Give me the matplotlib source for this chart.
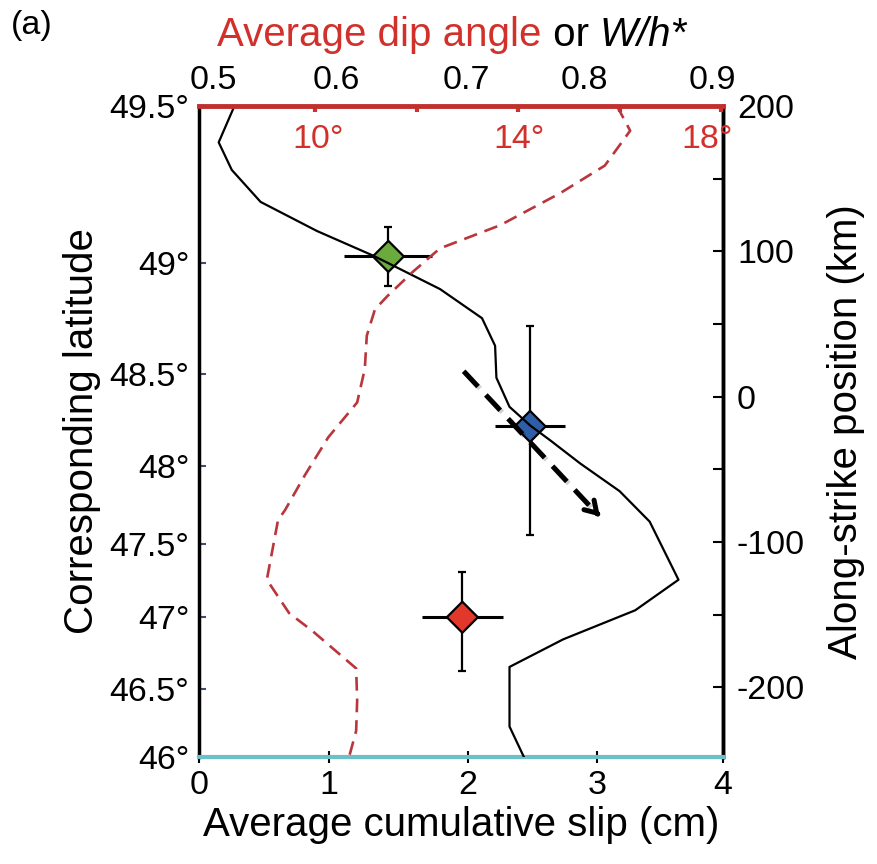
import numpy as np
import matplotlib.pyplot as plt
import matplotlib.patheffects as pe
from matplotlib.offsetbox import TextArea, HPacker, AnchoredOffsetbox

plt.rcParams['font.family'] = ['Liberation Sans', 'DejaVu Sans']

# black line: average cumulative slip (cm) along strike (km)
slip_cm = [0.27, 0.15, 0.25, 0.47, 0.90, 1.33, 1.53, 1.84, 2.16, 2.26, 2.27, 2.37,
           2.53, 2.68, 2.91, 3.21, 3.44, 3.66, 3.33, 2.78, 2.37, 2.37, 2.48]
slip_km = [200, 175, 156, 134, 114, 97, 88, 74, 54, 35, 13, -7,
           -20, -30, -46, -65, -86, -126, -147, -167, -186, -227, -248]

# red dashed line: average dip angle (deg)
dip_deg = [15.95, 16.21, 15.71, 14.83, 13.65, 12.46, 11.93, 11.42, 11.18, 11.02, 10.98, 10.83,
           10.26, 9.80, 9.41, 9.27, 9.05, 9.49, 9.94, 10.81, 10.83, 10.81, 10.67]
dip_km = [200, 183, 159, 140, 118, 102, 86, 69, 60, 42, 19, -4,
          -28, -54, -78, -85, -126, -149, -161, -187, -209, -230, -248]

# diamonds with error bars
mk_slip = [1.445, 2.527, 2.01]
mk_km = [96.5, -20.5, -151.8]
mk_xerr = [0.335, 0.27, 0.31]
mk_yerr_lo = [20.5, 75, 37]
mk_yerr_hi = [20.5, 69, 31]
mk_colors = ['#6aab3c', '#2f5ea8', '#e2382b']

# dashed arrow (slip, km)
arrow_start = (2.02, 17.5)
arrow_end = (3.06, -82.4)

# axes ticks
slip_ticks = [0, 0.99, 2.05, 3.04, 4]
slip_labels = ['0', '1', '2', '3', '4']
lat_ticks_km = [200, 91.8, 15.5, -47.7, -101.6, -151.8, -200.9, -248]
lat_labels = ['49.5°', '49°', '48.5°', '48°', '47.5°', '47°', '46.5°', '46°']
wh_label_pos = [0.11, 1.05, 2.04, 2.94, 3.92]
wh_labels = ['0.5', '0.6', '0.7', '0.8', '0.9']
wh_mark_pos = [1.05, 2.04, 2.94]
dip_marks = [10, 12, 14, 16, 18]
dip_label_pos = [10.06, 14.02, 17.72]
dip_labels = ['10°', '14°', '18°']

red = '#d2302b'
dash_red = '#b8363c'
teal = '#6cc0c8'

fig = plt.figure(figsize=(8.78, 8.64), dpi=100)
ax = fig.add_axes([0.2267, 0.1238, 0.5968, 0.7535])
ax.set_xlim(0, 4)
ax.set_ylim(-248, 200)

for i in range(len(mk_slip)):
    ax.errorbar(mk_slip[i], mk_km[i], yerr=[[mk_yerr_lo[i]], [mk_yerr_hi[i]]], fmt='none',
                ecolor='k', elinewidth=1.6, capsize=3, capthick=1.6, zorder=2)
    ax.errorbar(mk_slip[i], mk_km[i], xerr=mk_xerr[i], fmt='none',
                ecolor='k', elinewidth=2.2, capsize=0, zorder=2)
ax.scatter(mk_slip, mk_km, marker='D', s=250, c=mk_colors, edgecolors='k',
           linewidths=1.6, zorder=3)
ax.plot(slip_cm, slip_km, color='k', lw=1.6, zorder=4)

# dashed arrow with a soft shadow
shadow = [pe.SimpleLineShadow(offset=(1.5, -1.5), alpha=0.18), pe.Normal()]
ax.plot([arrow_start[0], arrow_end[0] - 0.06], [arrow_start[1], arrow_end[1] + 5.5],
        color='k', lw=3.6, linestyle=(0, (4.2, 2.3)), solid_capstyle='butt',
        path_effects=shadow, zorder=5)
ax.annotate('', xy=arrow_end, xytext=(arrow_end[0] - 0.02, arrow_end[1] + 1.9),
            arrowprops=dict(arrowstyle='->,head_length=0.8,head_width=0.5', lw=3.6,
                            color='k', shrinkA=0, shrinkB=0),
            zorder=5)

ax.set_xticks(slip_ticks)
ax.set_xticklabels(slip_labels)
ax.set_yticks(lat_ticks_km)
ax.set_yticklabels(lat_labels)
ax.tick_params(axis='x', direction='inout', length=8, width=1.5, color='k',
               labelsize=24.5, pad=5)
ax.tick_params(axis='y', direction='in', length=5, width=1.5, color='#3f4d6e',
               labelsize=24.5, pad=7)
ax.set_xlabel('Average cumulative slip (cm)', fontsize=29, labelpad=4)
ax.set_ylabel('Corresponding latitude', fontsize=29, labelpad=6)
for s in ['left', 'right']:
    ax.spines[s].set_linewidth(2.5)
ax.spines['bottom'].set_color(teal)
ax.spines['bottom'].set_linewidth(3)
ax.spines['top'].set_visible(False)

# right axis: along-strike position
axr = ax.secondary_yaxis('right')
axr.set_yticks([-200, -100, 0, 100, 200])
axr.set_yticklabels(['-200', '-100', '0', '100', '200'])
axr.set_yticks([-150, -50, 50, 150], minor=True)
axr.tick_params(which='both', direction='in', length=7, width=1.5, labelsize=24.5, pad=10)
axr.spines['right'].set_linewidth(2.5)
axr.set_ylabel('Along-strike position (km)', fontsize=29, labelpad=16)

# top axis: dip angle (red, inner labels)
axd = ax.twiny()
axd.set_xlim(7.714, 18.04)
axd.plot(dip_deg, dip_km, color=dash_red, lw=1.9, linestyle=(0, (5.2, 3)))
axd.set_xticks(dip_label_pos)
axd.set_xticklabels(dip_labels)
axd.set_xticks(dip_marks, minor=True)
axd.tick_params(axis='x', which='major', length=0, labelsize=24.5, labelcolor=red, pad=-35)
axd.tick_params(axis='x', which='minor', direction='in', length=4.5, width=3, color=red)
for s in ['left', 'right', 'bottom']:
    axd.spines[s].set_visible(False)
axd.spines['top'].set_color('#c0302e')
axd.spines['top'].set_linewidth(3.5)

# top axis: W/h* (black, outer labels)
axw = ax.twiny()
axw.set_xlim(0, 4)
axw.set_xticks(wh_label_pos)
axw.set_xticklabels(wh_labels)
axw.set_xticks(wh_mark_pos, minor=True)
axw.tick_params(axis='x', which='major', length=0, labelsize=24.5, pad=7)
axw.tick_params(axis='x', which='minor', direction='in', length=7, width=1.8, color='k')
for s in ['left', 'right', 'bottom', 'top']:
    axw.spines[s].set_visible(False)

title_box = HPacker(children=[
    TextArea('Average dip angle', textprops=dict(color=red, fontsize=29)),
    TextArea(' or ', textprops=dict(color='k', fontsize=29)),
    TextArea('W/h*', textprops=dict(color='k', fontsize=29, style='italic')),
], align='baseline', pad=0, sep=0)
anch = AnchoredOffsetbox(loc='center', child=title_box, pad=0, borderpad=0, frameon=False,
                         bbox_to_anchor=(0.483, 1.109), bbox_transform=ax.transAxes)
ax.add_artist(anch)

fig.text(0.012, 0.988, '(a)', fontsize=24.5, va='top', ha='left')

fig.savefig('out.png', dpi=100)
